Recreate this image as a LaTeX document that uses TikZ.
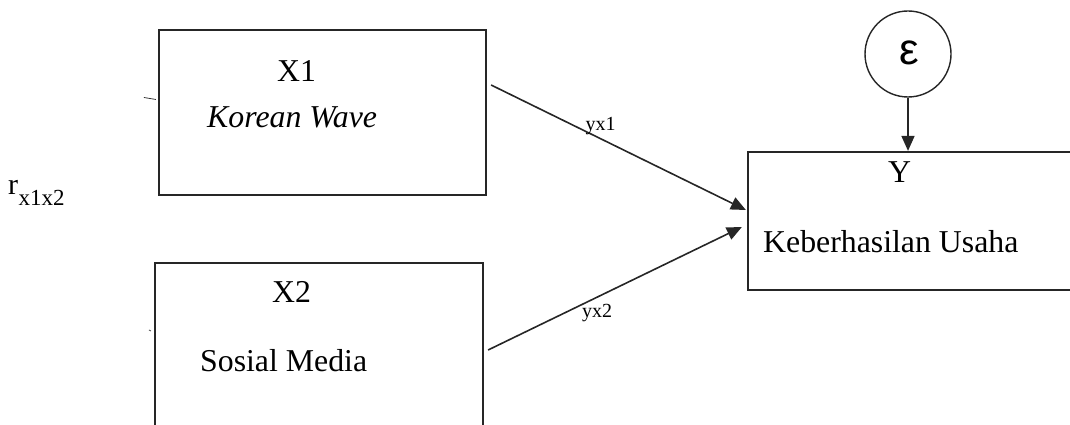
\documentclass[tikz,border=0pt]{standalone}
\usepackage{fontspec}
\setmainfont{Liberation Serif}
\newfontfamily\epsfont{Liberation Sans}
\usetikzlibrary{arrows.meta,calc}
\tikzset{
  boxnode/.style={draw=black!85, line width=2.2pt, rectangle, inner sep=0pt},
  lbl/.style={inner sep=0pt, anchor=base west, font=\fontsize{31.8}{36}\selectfont},
  coef/.style={inner sep=0pt, font=\fontsize{20}{24}\selectfont},
  arr/.style={draw=black!85, line width=1.6pt, -{Triangle[length=15pt,width=13pt]}},
}
\begin{document}
\begin{tikzpicture}[x=1pt,y=1pt]
\useasboundingbox (0,0) rectangle (1070,425);
\clip (0,0) rectangle (1070,425);
% boxes
\node[boxnode, minimum width=327pt, minimum height=165pt] (X1) at (322.5,312.5) {};
\node[boxnode, minimum width=328pt, minimum height=182pt] (X2) at (319,71) {};
\node[boxnode, minimum width=337pt, minimum height=138pt] (Y) at (916.5,204) {};
\node[draw=black!85, line width=1.4pt, circle, minimum size=86pt, inner sep=0pt] (E) at (908,371) {};
\node[inner sep=0pt, font=\epsfont\fontsize{44}{50}\selectfont] (Et) at (909,372) {ε};
% texts
\node[lbl] (tX1) at (277,343) {X1};
\node[lbl] (tKW) at (207,297) {\itshape Korean Wave};
\node[lbl] (tX2) at (272,122) {X2};
\node[lbl] (tSM) at (200,53) {Sosial Media};
\node[lbl] (tY) at (888,242) {Y};
\node[lbl] (tKU) at (763,172) {Keberhasilan Usaha};
\node[inner sep=0pt, anchor=base west, font=\fontsize{30}{34}\selectfont] (r) at (8,230) {r};
\node[inner sep=0pt, anchor=base west, font=\fontsize{23}{26}\selectfont] (rs) at (r.base east) [yshift=-11pt] {x1x2};
% connectors
\draw[arr] ([yshift=27.5pt,xshift=4pt]X1.east) -- ([yshift=11pt,xshift=-1pt]Y.west)
  node[coef, pos=0.43, above=3pt] (l1) {yx1};
\draw[arr] ([yshift=4pt,xshift=4pt]X2.east) -- ([yshift=-6pt,xshift=-5pt]Y.west)
  node[coef, pos=0.43, below=6pt] (l2) {yx2};
\draw[arr] (E.south) -- (E.south |- Y.north);
% tiny marks at the left of the boxes
\coordinate (m1) at ($(X1.west)+(-14pt,15pt)$);
\draw[black!80, line width=0.8pt] (m1) -- ++(12pt,-2pt);
\coordinate (m2) at ($(X2.west)+(-5pt,24pt)$);
\draw[black!70, line width=0.8pt] (m2) -- ++(2pt,-1pt);
\end{tikzpicture}
\end{document}
